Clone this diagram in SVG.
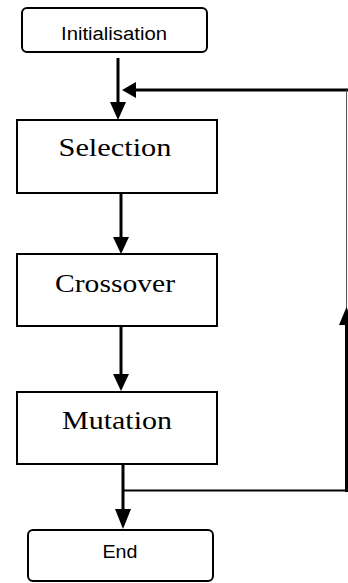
<svg xmlns="http://www.w3.org/2000/svg" width="348" height="583" viewBox="0 0 348 583">
<style>
.box{fill:#fff;stroke:#000;stroke-width:2}
.sans{font-family:"Liberation Sans",Arial,sans-serif;font-size:18px;fill:#000}
.serif{font-family:"Liberation Serif","Times New Roman",serif;font-size:26px;fill:#000}
.ln{stroke:#000;stroke-width:3;fill:none}
.ah{fill:#000}
</style>
<rect width="348" height="583" fill="#fff"/>
<g id="initialisation">
<rect class="box" x="22" y="8" width="185" height="44" rx="5"/>
<text class="sans" x="114" y="40" text-anchor="middle" textLength="106" lengthAdjust="spacingAndGlyphs">Initialisation</text>
</g>
<g id="selection">
<rect class="box" x="17" y="120" width="200" height="73"/>
<text class="serif" x="115" y="156" text-anchor="middle" textLength="113" lengthAdjust="spacingAndGlyphs">Selection</text>
</g>
<g id="crossover">
<rect class="box" x="17" y="254" width="200" height="72"/>
<text class="serif" x="115" y="292" text-anchor="middle" textLength="120" lengthAdjust="spacingAndGlyphs">Crossover</text>
</g>
<g id="mutation">
<rect class="box" x="17" y="392" width="200" height="72"/>
<text class="serif" x="117" y="429" text-anchor="middle" textLength="110" lengthAdjust="spacingAndGlyphs">Mutation</text>
</g>
<g id="end">
<rect class="box" x="28" y="530" width="185" height="51" rx="5"/>
<text class="sans" x="120" y="558" text-anchor="middle" textLength="35" lengthAdjust="spacingAndGlyphs">End</text>
</g>
<g id="connectors">
<line class="ln" x1="118" y1="58" x2="118" y2="104"/>
<polygon class="ah" points="118,120 110,102 126,102"/>
<line class="ln" x1="134" y1="90" x2="348" y2="90"/>
<polygon class="ah" points="122,90 136,82 136,98"/>
<line x1="346.5" y1="90" x2="346.5" y2="310" stroke="#555" stroke-width="1"/>
<line class="ln" x1="346.5" y1="322" x2="346.5" y2="492"/>
<polygon class="ah" points="346.5,307 339,325 354,325"/>
<line class="ln" x1="121" y1="193" x2="121" y2="240"/>
<polygon class="ah" points="121,254 113,237 129,237"/>
<line class="ln" x1="121" y1="326" x2="121" y2="377"/>
<polygon class="ah" points="121,391 113,374 129,374"/>
<line class="ln" x1="123" y1="464" x2="123" y2="512"/>
<polygon class="ah" points="123,529 115,509 131,509"/>
<line x1="123" y1="490.5" x2="348" y2="490.5" stroke="#000" stroke-width="2"/>
</g>
</svg>
